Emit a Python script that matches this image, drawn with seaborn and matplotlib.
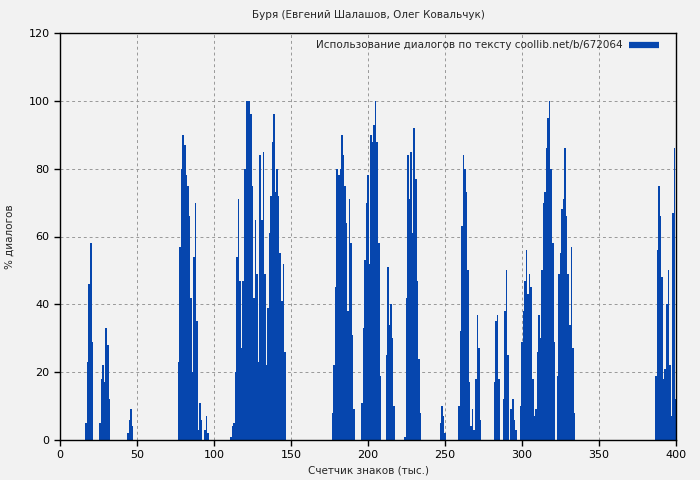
import matplotlib
matplotlib.use("Agg")
import matplotlib.pyplot as plt
import seaborn as sns
import numpy as np
import pandas as pd
from matplotlib.lines import Line2D

title = "Буря (Евгений Шалашов, Олег Ковальчук)"
legend_label = "Использование диалогов по тексту coollib.net/b/672064"
x_label = "Счетчик знаков (тыс.)"
y_label = "% диалогов"

# groups of consecutive bars: first position (thousand chars) and the values
group_starts = [17, 26, 44, 77, 111, 177, 196, 212, 224, 247, 259, 267,
                282, 288, 293, 299, 387]
group_values = [
    [5, 23, 46, 58, 29],
    [5, 18, 22, 17, 33, 28, 12],
    [2, 6, 9, 4],
    [23, 57, 80, 90, 87, 78, 75, 66, 42, 20, 54, 70, 35, 3, 11, 6, 0, 3, 7, 2],
    [1, 4, 5, 20, 54, 71, 47, 27, 47, 80, 100, 100, 100, 96, 75, 42, 65, 49,
     23, 84, 65, 85, 49, 22, 39, 61, 72, 88, 96, 73, 80, 72, 55, 41, 52, 26],
    [8, 22, 45, 80, 78, 80, 90, 84, 75, 64, 38, 71, 58, 31, 9],
    [11, 33, 53, 70, 78, 52, 90, 88, 93, 100, 88, 58, 19],
    [25, 51, 34, 40, 30, 10],
    [1, 42, 84, 71, 85, 61, 92, 77, 47, 24, 8],
    [5, 10, 7, 2],
    [10, 32, 63, 84, 80, 73, 50, 17],
    [4, 9, 3, 18, 37, 27, 6],
    [17, 35, 37, 18],
    [12, 38, 50, 25],
    [9, 12, 6, 3],
    [10, 29, 38, 47, 56, 43, 49, 45, 18, 7, 9, 26, 37, 30, 50, 70, 73, 86, 95,
     100, 80, 58, 29, 0, 19, 49, 55, 68, 71, 86, 66, 49, 34, 57, 27, 8],
    [19, 56, 75, 66, 48, 18, 21, 40, 50, 22, 7, 67, 86, 12],
]

x_ticks = [0, 50, 100, 150, 200, 250, 300, 350, 400]
y_ticks = [0, 20, 40, 60, 80, 100, 120]

rows = []
for start, vals in zip(group_starts, group_values):
    for i, v in enumerate(vals):
        rows.append((start + i, v))
df = pd.DataFrame(rows, columns=["pos", "pct"])

bar_color = "#0646ae"
bg = "#f2f2f2"

sns.set_style("white")
plt.rcParams["font.family"] = ["DejaVu Sans"]

fig = plt.figure(figsize=(7, 4.8), dpi=100, facecolor=bg)
ax = fig.add_axes([60 / 700, 40 / 480, 616 / 700, 407 / 480])
ax.set_facecolor(bg)

sns.histplot(data=df, x="pos", weights="pct", discrete=True, shrink=1.0,
             color=bar_color, alpha=1, linewidth=0, ax=ax)

ax.set_xlim(0, 400)
ax.set_ylim(0, 120)
ax.set_xticks(x_ticks)
ax.set_yticks(y_ticks)
ax.grid(True, color="#999999", linestyle=(0, (3, 3)), linewidth=0.7)
ax.set_axisbelow(True)
for s in ax.spines.values():
    s.set_color("black")
    s.set_linewidth(1.0)
ax.tick_params(axis="both", direction="out", length=4, width=1,
               labelsize=8, colors="black", bottom=True, left=True)

ax.set_title(title, fontsize=7.5, pad=11)
ax.set_xlabel(x_label, fontsize=7.5, labelpad=4)
ax.set_ylabel(y_label, fontsize=7.5, labelpad=10)

handle = Line2D([], [], color=bar_color, linewidth=4.5, solid_capstyle="butt")
ax.legend([handle], [legend_label], loc="upper right", frameon=False,
          markerfirst=False, fontsize=7.5, handlelength=2.9,
          borderaxespad=0.4, borderpad=0.3, handletextpad=0.6,
          bbox_to_anchor=(0.985, 1.0))

fig.savefig("out.png", dpi=100, facecolor=bg)
